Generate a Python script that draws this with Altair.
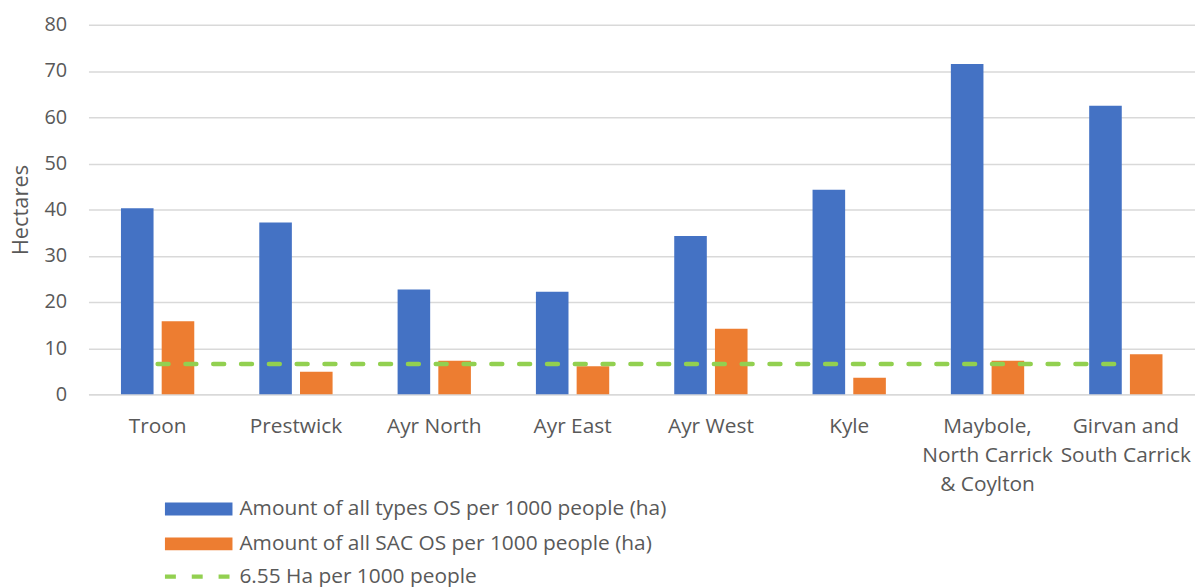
import altair as alt
import pandas as pd

# ---- data ----
areas = [
    "Troon",
    "Prestwick",
    "Ayr North",
    "Ayr East",
    "Ayr West",
    "Kyle",
    "Maybole,\nNorth Carrick\n& Coylton",
    "Girvan and\nSouth Carrick",
]
all_os = [40.3, 37.2, 22.7, 22.2, 34.3, 44.3, 71.5, 62.5]
sac_os = [15.8, 4.9, 7.3, 6.1, 14.2, 3.6, 7.3, 8.7]
standard = [6.55] * len(areas)

series_bar = [
    "Amount of all types OS per 1000 people (ha)",
    "Amount of all SAC OS per 1000 people (ha)",
]
series_line = "6.55 Ha per 1000 people"
y_ticks = [0, 10, 20, 30, 40, 50, 60, 70, 80]

BLUE = "#4472C4"
ORANGE = "#ED7D31"
GREEN = "#92D050"
TEXT = "#595959"
GRID = "#D9D9D9"
FONT = "Open Sans"

bar_df = pd.DataFrame(
    {
        "area": areas * 2,
        "series": [series_bar[0]] * len(areas) + [series_bar[1]] * len(areas),
        "value": all_os + sac_os,
    }
)
line_df = pd.DataFrame({"area": areas, "series": series_line, "value": standard})

x_enc = alt.X(
    "area:N",
    sort=areas,
    title=None,
    scale=alt.Scale(paddingInner=0.47, paddingOuter=0.235),
    axis=alt.Axis(
        labelExpr="split(datum.label, '\\n')",
        labelAngle=0,
        labelFontSize=21,
        labelLineHeight=29.5,
        labelPadding=21,
        labelColor=TEXT,
        labelFont=FONT,
        ticks=False,
        domainColor=GRID,
        domainWidth=1.5,
        labelBound=False,
        labelOverlap=False,
    ),
)

# legend swatch: 68 x 13 px rectangle drawn from the entry's left edge
sw_path = "M-1,-1H9.46V1H-1Z"
dash_path = "M-1,0H9.46"

bars = alt.Chart(bar_df).mark_bar().encode(
    x=x_enc,
    xOffset=alt.XOffset(
        "series:N", sort=series_bar, scale=alt.Scale(paddingInner=0.2, paddingOuter=0)
    ),
    y=alt.Y(
        "value:Q",
        scale=alt.Scale(domain=[0, 80], nice=False),
        axis=alt.Axis(
            values=y_ticks,
            title="Hectares",
            titleFont=FONT,
            titleFontSize=22,
            titleFontWeight="normal",
            titleColor=TEXT,
            titlePadding=11,
            labelFont=FONT,
            labelFontSize=20,
            labelColor=TEXT,
            labelPadding=22,
            ticks=False,
            domain=False,
            gridColor=GRID,
            gridWidth=1.5,
        ),
    ),
    fill=alt.Fill(
        "series:N",
        sort=series_bar,
        scale=alt.Scale(domain=series_bar, range=[BLUE, ORANGE]),
        legend=alt.Legend(
            title=None,
            orient="none",
            legendX=73,
            legendY=477,
            direction="vertical",
            symbolType=sw_path,
            symbolSize=169,
            symbolStrokeWidth=0,
            labelFont=FONT,
            labelFontSize=21,
            labelColor=TEXT,
            labelOffset=58,
            labelLimit=800,
            rowPadding=13,
        ),
    ),
)

line = alt.Chart(line_df).mark_line(
    strokeWidth=4.5, strokeDash=[11, 17], strokeCap="round"
).encode(
    x=alt.X("area:N", sort=areas),
    y=alt.Y("value:Q"),
    stroke=alt.Stroke(
        "series:N",
        scale=alt.Scale(domain=[series_line], range=[GREEN]),
        legend=alt.Legend(
            title=None,
            orient="none",
            legendX=73,
            legendY=545,
            direction="vertical",
            symbolType=dash_path,
            symbolSize=169,
            symbolStrokeWidth=4.5,
            symbolDash=[11, 16],
            symbolFillColor="transparent",
            labelFont=FONT,
            labelFontSize=21,
            labelColor=TEXT,
            labelOffset=58,
            labelLimit=800,
        ),
    ),
)

chart = (
    alt.layer(bars, line)
    .properties(
        width=1114,
        height=372,
        autosize=alt.AutoSizeParams(type="none"),
        padding={"left": 81, "top": 15, "right": 0, "bottom": 192},
        background="white",
    )
    .configure_view(stroke=None)
)

chart.save("out.html", embed_options={"renderer": "svg", "actions": False})
